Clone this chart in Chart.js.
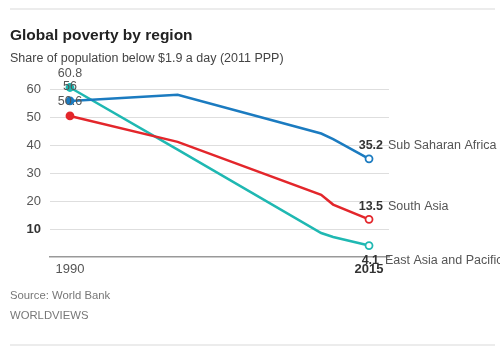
<!DOCTYPE html>
<html>
<head>
<meta charset="utf-8">
<script src="https://cdn.jsdelivr.net/npm/chart.js@4.4.1/dist/chart.umd.min.js"></script>
<style>
  html, body { margin: 0; padding: 0; background: #fff; }
  #wrap { position: relative; width: 500px; height: 354px; overflow: hidden; font-family: "Liberation Sans", Arial, sans-serif; }
  #c { position: absolute; left: 0; top: 0; }
  .rule { position: absolute; left: 10px; width: 485px; height: 2px; background: #ececec; }
  .txt { position: absolute; left: 10px; white-space: nowrap; line-height: 1; }
  #title { top: 27px; font-size: 15.5px; font-weight: bold; color: #222; }
  #sub { top: 52px; font-size: 12.5px; color: #444; }
  #src { top: 290px; font-size: 11.3px; color: #777; }
  #wv { top: 310px; font-size: 11.3px; color: #777; }
</style>
</head>
<body>
<div id="wrap">
  <canvas id="c" width="500" height="354"></canvas>
  <div class="rule" style="top:8px"></div>
  <div class="txt" id="title">Global poverty by region</div>
  <div class="txt" id="sub">Share of population below $1.9 a day (2011 PPP)</div>
  <div class="txt" id="src">Source: World Bank</div>
  <div class="txt" id="wv">WORLDVIEWS</div>
  <div class="rule" style="top:344px"></div>
</div>
<script>
const years = [1990, 1999, 2011, 2012, 2015];
const subSaharanAfrica = [56, 58.2, 44.3, 42.3, 35.2];
const southAsia = [50.6, 41.3, 22.3, 18.8, 13.5];
const eastAsiaPacific = [60.8, 38.5, 8.6, 7.2, 4.1];
const seriesNames = ["Sub Saharan Africa", "South Asia", "East Asia and Pacific"];
const startLabels = ["56", "50.6", "60.8"];
const endLabels = ["35.2", "13.5", "4.1"];
const yTicks = [10, 20, 30, 40, 50, 60];
const xTicks = [1990, 2015];

const colors = ["#1b7bc0", "#e3262b", "#1fb8b2"];
const seriesValues = [subSaharanAfrica, southAsia, eastAsiaPacific];
const FONT = '"Liberation Sans", Arial, sans-serif';

const datasets = seriesValues.map((vals, i) => ({
  label: seriesNames[i],
  data: years.map((yr, j) => ({ x: yr, y: vals[j] })),
  borderColor: colors[i],
  borderWidth: 2.5,
  tension: 0,
  pointRadius: years.map((_, j) => (j === 0 || j === years.length - 1) ? 3.5 : 0),
  pointBackgroundColor: years.map((_, j) => j === 0 ? colors[i] : '#fff'),
  pointBorderColor: colors[i],
  pointBorderWidth: 1.8,
  clip: false
}));

const labelPlugin = {
  id: 'labels',
  afterDatasetsDraw(chart) {
    const ctx = chart.ctx;
    ctx.save();
    chart.data.datasets.forEach((ds, i) => {
      const meta = chart.getDatasetMeta(i);
      const p0 = meta.data[0];
      const pN = meta.data[meta.data.length - 1];
      ctx.font = '12.5px ' + FONT;
      ctx.fillStyle = '#555';
      ctx.textAlign = 'center';
      ctx.textBaseline = 'middle';
      ctx.fillText(startLabels[i], p0.x, p0.y - 14);
      const dy = i === 2 ? 15 : -13;
      ctx.font = 'bold 12.5px ' + FONT;
      ctx.fillStyle = '#333';
      ctx.textAlign = 'right';
      ctx.fillText(endLabels[i], pN.x + (i === 2 ? 10 : 14), pN.y + dy);
      ctx.font = '12.5px ' + FONT;
      ctx.fillStyle = '#555';
      ctx.textAlign = 'left';
      ctx.fillText(seriesNames[i], pN.x + (i === 2 ? 16 : 19), pN.y + dy);
    });
    ctx.restore();
  }
};

new Chart(document.getElementById('c'), {
  type: 'line',
  data: { datasets },
  plugins: [labelPlugin],
  options: {
    responsive: false,
    animation: false,
    layout: { padding: { left: 0, right: 111, top: 73, bottom: 77 } },
    plugins: { legend: { display: false }, tooltip: { enabled: false } },
    scales: {
      x: {
        type: 'linear',
        min: 1988.33,
        max: 2016.67,
        afterBuildTicks: (s) => { s.ticks = xTicks.map(v => ({ value: v })); },
        afterFit: (s) => { s.height = 20; },
        grid: { display: false, drawTicks: false },
        border: { display: true, color: '#999', width: 1.5 },
        ticks: {
          padding: 5,
          autoSkip: false,
          maxRotation: 0,
          callback: (v) => String(v),
          color: (c) => c.tick && c.tick.value === 2015 ? '#333' : '#555',
          font: (c) => ({ family: FONT, size: 13, weight: c.tick && c.tick.value === 2015 ? 'bold' : 'normal' })
        }
      },
      y: {
        min: 0,
        max: 66,
        afterBuildTicks: (s) => { s.ticks = yTicks.map(v => ({ value: v })); },
        afterFit: (s) => { s.width = 50; },
        grid: { color: '#dedede', lineWidth: 1, drawTicks: false },
        border: { display: false },
        ticks: {
          padding: 9,
          callback: (v) => String(v),
          color: (c) => c.tick && c.tick.value === 10 ? '#333' : '#555',
          font: (c) => ({ family: FONT, size: 13, weight: c.tick && c.tick.value === 10 ? 'bold' : 'normal' })
        }
      }
    }
  }
});
</script>
</body>
</html>
